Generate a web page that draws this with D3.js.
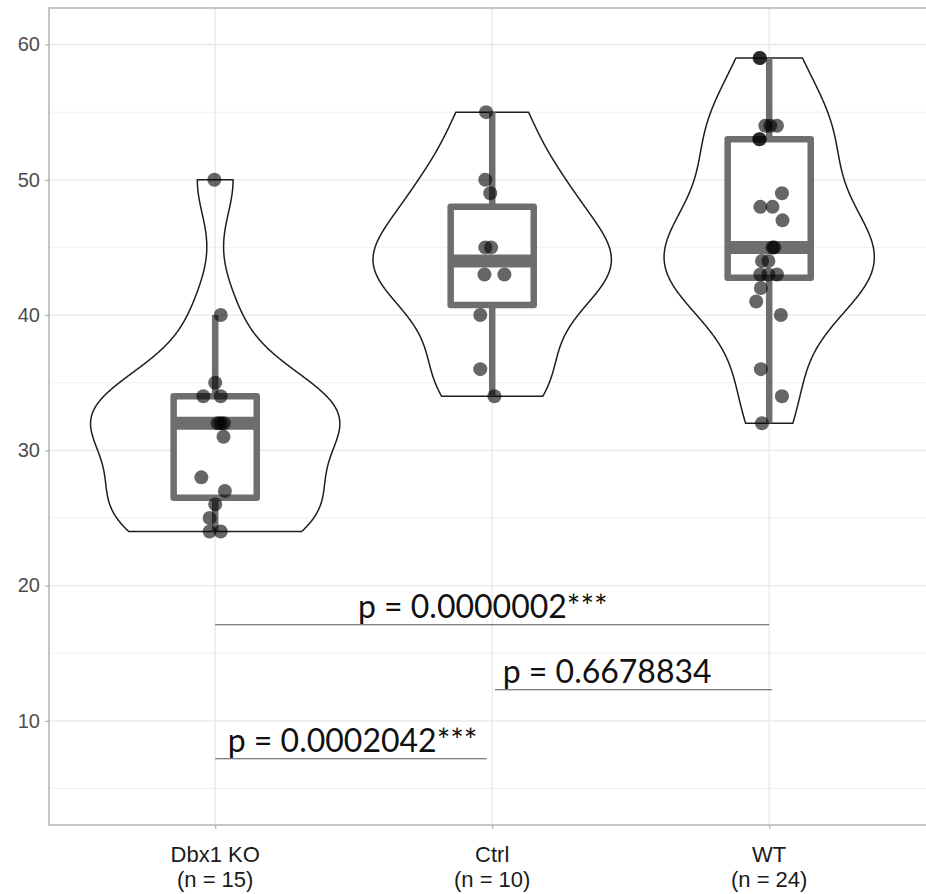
<!DOCTYPE html>
<html>
<head>
<meta charset="utf-8">
<script src="https://cdn.jsdelivr.net/npm/d3@7"></script>
<style>
  body { margin: 0; background: #fff; }
  svg { display: block; }
</style>
</head>
<body>
<svg id="chart" width="926" height="894"></svg>
<script>
// ---- data -------------------------------------------------------------
const groups      = ["Dbx1 KO", "Ctrl", "WT"];
const groupCounts = ["(n = 15)", "(n = 10)", "(n = 24)"];

const koValues   = [50, 40, 35, 34, 34, 32, 32, 32, 31, 28, 27, 26, 25, 24, 24];
const koJitter   = [-0.003, 0.020, 0.000, -0.043, 0.020, 0.009, 0.020, 0.031, 0.030, -0.050, 0.035, 0.000, -0.020, -0.020, 0.020];

const ctrlValues = [55, 50, 49, 45, 45, 43, 43, 40, 36, 34];
const ctrlJitter = [-0.022, -0.025, -0.007, -0.025, -0.004, -0.028, 0.044, -0.043, -0.043, 0.008];

const wtValues   = [59, 59, 54, 54, 54, 53, 53, 49, 48, 48, 47, 45, 45, 44, 44, 43, 43, 43, 42, 41, 40, 36, 34, 32];
const wtJitter   = [-0.035, -0.033, -0.014, 0.004, 0.028, -0.036, -0.034, 0.046, -0.032, 0.012, 0.048, 0.012, 0.018, -0.026, -0.003, -0.032, -0.003, 0.028, -0.030, -0.047, 0.042, -0.030, 0.046, -0.026];

const yTicks      = [10, 20, 30, 40, 50, 60];
const yMinorTicks = [5, 15, 25, 35, 45, 55];

// pairwise comparisons: bracket from group index to group index at a y level
const pLabels  = ["p = 0.0000002***", "p = 0.6678834", "p = 0.0002042***"];
const pFrom    = [0, 1.01, 0];
const pTo      = [2, 2.01, 0.98];
const pLevel   = [17.1, 12.3, 7.2];
const pLabelAt = [0.966, 1.415, 0.496];

// ---- layout -----------------------------------------------------------
const svg = d3.select("#chart");
const panel = { left: 49, top: 8, right: 935.4, bottom: 825 };

const x = d3.scaleLinear().domain([-0.6, 2.6]).range([panel.left, panel.right]);
const y = d3.scaleLinear().domain([2.3, 62.7]).range([panel.bottom, panel.top]);
const unit = x(1) - x(0);

const series = [
  { values: koValues,   jitter: koJitter },
  { values: ctrlValues, jitter: ctrlJitter },
  { values: wtValues,   jitter: wtJitter }
];

// ---- grid -------------------------------------------------------------
const grid = svg.append("g");
grid.selectAll("line.minor").data(yMinorTicks).join("line")
  .attr("x1", panel.left).attr("x2", panel.right)
  .attr("y1", d => y(d)).attr("y2", d => y(d))
  .attr("stroke", "#ededed").attr("stroke-width", 0.8);
grid.selectAll("line.major").data(yTicks).join("line")
  .attr("x1", panel.left).attr("x2", panel.right)
  .attr("y1", d => y(d)).attr("y2", d => y(d))
  .attr("stroke", "#e8e8e8").attr("stroke-width", 1.3);
grid.selectAll("line.vx").data(groups).join("line")
  .attr("x1", (d, i) => x(i)).attr("x2", (d, i) => x(i))
  .attr("y1", panel.top).attr("y2", panel.bottom)
  .attr("stroke", "#e8e8e8").attr("stroke-width", 1.3);

// ---- violins (Gaussian KDE, bw.nrd0, trimmed, scaled by area) ----------
function bwNrd0(v) {
  const s = d3.sort(v);
  const sd = d3.deviation(s);
  const iqr = d3.quantileSorted(s, 0.75) - d3.quantileSorted(s, 0.25);
  const lo = Math.min(sd, iqr / 1.34);
  return 0.9 * lo * Math.pow(s.length, -0.2);
}
function kde(v, bw, at) {
  const n = v.length, c = 1 / (Math.sqrt(2 * Math.PI) * bw * n);
  return at.map(t => c * d3.sum(v, xi => Math.exp(-0.5 * ((t - xi) / bw) ** 2)));
}
const dens = series.map(s => {
  const lo = d3.min(s.values), hi = d3.max(s.values);
  const grid = d3.range(512).map(k => lo + (hi - lo) * k / 511);
  const bw = bwNrd0(s.values);
  const d = kde(s.values, bw, grid);
  return grid.map((t, k) => ({ t, d: d[k] }));
});
const maxD = d3.max(dens, g => d3.max(g, p => p.d));

const violins = svg.append("g");
dens.forEach((g, i) => {
  const half = p => p.d / maxD * 0.45 * unit;
  const pts = g.map(p => [x(i) - half(p), y(p.t)])
    .concat(g.slice().reverse().map(p => [x(i) + half(p), y(p.t)]));
  violins.append("path")
    .attr("d", d3.line()(pts) + "Z")
    .attr("fill", "none")
    .attr("stroke", "#1e1e1e")
    .attr("stroke-width", 1.5)
    .attr("stroke-linejoin", "round");
});

// ---- boxplots ---------------------------------------------------------
const boxColor = "#6e6e6e";
const boxes = svg.append("g");
series.forEach((s, i) => {
  const v = d3.sort(s.values);
  const q1 = d3.quantileSorted(v, 0.25), med = d3.quantileSorted(v, 0.5), q3 = d3.quantileSorted(v, 0.75);
  const iqr = q3 - q1;
  const wLo = d3.min(v.filter(d => d >= q1 - 1.5 * iqr));
  const wHi = d3.max(v.filter(d => d <= q3 + 1.5 * iqr));
  const bw = 0.3 * unit, cx = x(i);
  boxes.append("line").attr("x1", cx).attr("x2", cx).attr("y1", y(q3)).attr("y2", y(wHi))
    .attr("stroke", boxColor).attr("stroke-width", 6.5);
  boxes.append("line").attr("x1", cx).attr("x2", cx).attr("y1", y(q1)).attr("y2", y(wLo))
    .attr("stroke", boxColor).attr("stroke-width", 6.5);
  boxes.append("rect")
    .attr("x", cx - bw / 2).attr("y", y(q3))
    .attr("width", bw).attr("height", y(q1) - y(q3))
    .attr("fill", "#fff").attr("stroke", boxColor).attr("stroke-width", 6.5)
    .attr("stroke-linejoin", "round");
  boxes.append("line").attr("x1", cx - bw / 2).attr("x2", cx + bw / 2)
    .attr("y1", y(med)).attr("y2", y(med))
    .attr("stroke", boxColor).attr("stroke-width", 13);
});

// ---- jittered points --------------------------------------------------
const points = svg.append("g");
series.forEach((s, i) => {
  points.selectAll(null).data(s.values).join("circle")
    .attr("cx", (d, k) => x(i + s.jitter[k]))
    .attr("cy", d => y(d))
    .attr("r", 7)
    .attr("fill", "#000")
    .attr("fill-opacity", 0.6);
});

// ---- comparison brackets ----------------------------------------------
const comp = svg.append("g");
pLabels.forEach((lab, k) => {
  comp.append("line")
    .attr("x1", x(pFrom[k])).attr("x2", x(pTo[k]))
    .attr("y1", y(pLevel[k])).attr("y2", y(pLevel[k]))
    .attr("stroke", "#555").attr("stroke-width", 1.1);
  comp.append("text")
    .attr("x", x(pLabelAt[k])).attr("y", y(pLevel[k]) - 7)
    .attr("text-anchor", "middle")
    .attr("font-family", "Lato, 'Open Sans', sans-serif")
    .attr("font-size", 32)
    .attr("fill", "#111")
    .text(lab);
});

// ---- panel border -----------------------------------------------------
svg.append("rect")
  .attr("x", panel.left).attr("y", panel.top)
  .attr("width", panel.right - panel.left).attr("height", panel.bottom - panel.top)
  .attr("fill", "none").attr("stroke", "#b8b8b8").attr("stroke-width", 1.6);

// ---- axes -------------------------------------------------------------
const yAxis = d3.axisLeft(y).tickValues(yTicks).tickSize(4).tickPadding(5);
const gy = svg.append("g").attr("transform", `translate(${panel.left},0)`).call(yAxis);
gy.select(".domain").remove();
gy.selectAll(".tick line").attr("stroke", "#b3b3b3").attr("stroke-width", 1.2);
gy.selectAll(".tick text")
  .attr("font-family", "'Liberation Sans', Arial, sans-serif")
  .attr("font-size", 20).attr("fill", "#4d4d4d");

const xAxis = d3.axisBottom(x).tickValues([0, 1, 2]).tickSize(4).tickFormat("");
const gx = svg.append("g").attr("transform", `translate(0,${panel.bottom})`).call(xAxis);
gx.select(".domain").remove();
gx.selectAll(".tick line").attr("stroke", "#b3b3b3").attr("stroke-width", 1.2);

const labels = svg.append("g")
  .attr("font-family", "'Liberation Sans', Arial, sans-serif")
  .attr("font-size", 22).attr("fill", "#1a1a1a").attr("text-anchor", "middle");
groups.forEach((g, i) => {
  const t = labels.append("text").attr("x", x(i)).attr("y", 862);
  t.append("tspan").attr("x", x(i)).text(g);
  t.append("tspan").attr("x", x(i)).attr("dy", 25).text(groupCounts[i]);
});
</script>
</body>
</html>
